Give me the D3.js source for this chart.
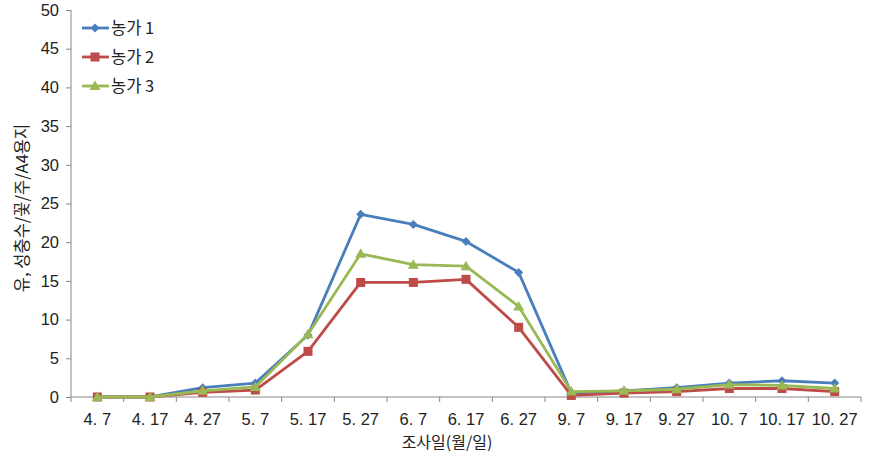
<!DOCTYPE html>
<html><head><meta charset="utf-8">
<script src="https://cdn.jsdelivr.net/npm/d3@7"></script>
<style>body{margin:0;background:#fff}svg{display:block}</style>
</head><body><svg id="c" width="869" height="460"></svg>
<script>
const categories = ["4. 7","4. 17","4. 27","5. 7","5. 17","5. 27","6. 7","6. 17","6. 27","9. 7","9. 17","9. 27","10. 7","10. 17","10. 27"];
const farm1 = [0,0,1.2,1.8,8.0,23.6,22.3,20.1,16.1,0.5,0.8,1.2,1.8,2.1,1.8];
const farm2 = [0,0,0.6,0.9,5.9,14.8,14.8,15.2,9.0,0.2,0.5,0.7,1.1,1.1,0.7];
const farm3 = [0,0,0.8,1.3,8.1,18.5,17.1,16.9,11.7,0.7,0.8,1.0,1.6,1.5,1.1];
const seriesNames = ["농가 1","농가 2","농가 3"];
const yTicks = [0,5,10,15,20,25,30,35,40,45,50];

const series = [
  {name:seriesNames[0], values:farm1, color:"#4A7EBB", marker:"diamond"},
  {name:seriesNames[1], values:farm2, color:"#BE4B48", marker:"square"},
  {name:seriesNames[2], values:farm3, color:"#98B954", marker:"triangle"}
];

const svg = d3.select("#c");
const L=71, R=861, T=10, B=397;
const x = d3.scaleBand().domain(categories).range([L,R]);
const y = d3.scaleLinear().domain([0,50]).range([B,T]);
const font = "'Liberation Sans', Arial, sans-serif";
const kfont = "'Noto Sans CJK KR', sans-serif";
const axisColor = "#868686";

// y axis
const ya = svg.append("g").attr("transform",`translate(${L},0)`)
  .call(d3.axisLeft(y).tickValues(yTicks).tickSize(5).tickPadding(7));
ya.select(".domain").attr("stroke",axisColor).attr("d",`M0,${T}V${B}`);
ya.selectAll(".tick line").attr("stroke",axisColor);
ya.selectAll("text").attr("font-family",font).attr("font-size",16.5).attr("fill","#222");

// x axis
const xa = svg.append("g").attr("transform",`translate(0,${B})`)
  .call(d3.axisBottom(x).tickSize(0).tickPadding(16));
xa.select(".domain").attr("stroke",axisColor).attr("d",`M${L},0H${R}`);
xa.selectAll("text").attr("font-family",font).attr("font-size",16.5).attr("fill","#222");
const bounds = categories.map(c=>x(c)).concat([R]);
xa.selectAll(".bt").data(bounds).enter().append("line")
  .attr("x1",d=>d).attr("x2",d=>d).attr("y1",0).attr("y2",5).attr("stroke",axisColor);

// titles
svg.append("text").attr("x",447).attr("y",448).attr("text-anchor","middle")
  .attr("font-family",kfont).attr("font-size",16).attr("fill","#222")
  .text("조사일(월/일)");
svg.append("text").attr("transform","translate(28,208) rotate(-90)").attr("text-anchor","middle")
  .attr("font-family",kfont).attr("font-size",16.5).attr("fill","#222")
  .text("유, 성충수/꽃/주/A4용지");

const cx = c => x(c) + x.bandwidth()/2;
const line = d3.line().x((d,i)=>cx(categories[i])).y(d=>y(d));

function drawMarker(g, type, px, py, color){
  if(type==="diamond"){
    g.append("path").attr("d",`M${px},${py-4.5}L${px+4.5},${py}L${px},${py+4.5}L${px-4.5},${py}Z`).attr("fill",color);
  } else if(type==="square"){
    g.append("rect").attr("x",px-4.5).attr("y",py-4.5).attr("width",9).attr("height",9).attr("fill",color);
  } else {
    g.append("path").attr("d",`M${px},${py-5.5}L${px+5.5},${py+4}L${px-5.5},${py+4}Z`).attr("fill",color);
  }
}

series.forEach(s=>{
  svg.append("path").datum(s.values).attr("d",line).attr("fill","none")
    .attr("stroke",s.color).attr("stroke-width",2.8).attr("stroke-linejoin","round");
  const g = svg.append("g");
  s.values.forEach((v,i)=>drawMarker(g,s.marker,cx(categories[i]),y(v),s.color));
});

// legend
series.forEach((s,i)=>{
  const ly = 28 + i*29;
  svg.append("line").attr("x1",82).attr("x2",109).attr("y1",ly).attr("y2",ly)
    .attr("stroke",s.color).attr("stroke-width",2.8);
  drawMarker(svg,s.marker,95,ly,s.color);
  svg.append("text").attr("x",111).attr("y",ly+6).attr("font-family",kfont)
    .attr("font-size",16.5).attr("fill","#222").text(s.name);
});
</script></body></html>
